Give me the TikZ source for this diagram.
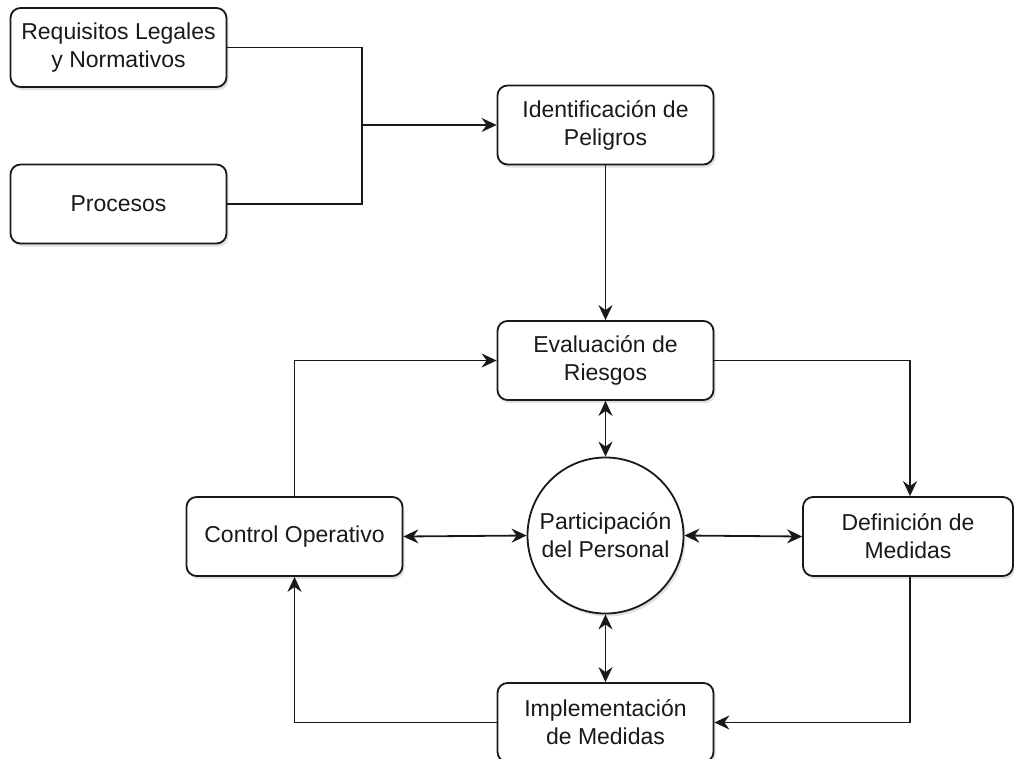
\documentclass[tikz,border=0pt]{standalone}
\usepackage{fontspec}
\setmainfont{Liberation Sans}
\usetikzlibrary{arrows.meta,shadows}
\begin{document}
\begin{tikzpicture}[x=1pt,y=-1pt,
  font=\fontsize{23}{28}\selectfont,
  every node/.style={text=black!90},
  shade/.style={drop shadow={opacity=0.12,shadow xshift=2pt,shadow yshift=-3pt,fill=blue!40!black}},
  box/.style={draw=black!90,line width=1.8pt,rounded corners=10pt,fill=white,
    minimum width=216pt,minimum height=79pt,align=center,inner sep=0pt,shade},
  disc/.style={draw=black!90,line width=1.8pt,circle,fill=white,
    minimum size=156pt,align=center,inner sep=0pt,shade},
  link/.style={draw=black!90,line width=1.8pt},
  tip/.style={Stealth[length=15pt,width=14pt,inset=5pt]},
  arr/.style={link,-{Stealth[length=15pt,width=14pt,inset=5pt]}},
  both/.style={link,{Stealth[length=15pt,width=14pt,inset=5pt]}-{Stealth[length=15pt,width=14pt,inset=5pt]}}
]
\useasboundingbox (0,0) rectangle (1014,758);

% process nodes
\node[box] (req)   at (118.5,47.5) {Requisitos Legales\\y Normativos};
\node[box] (proc)  at (118.5,204)  {Procesos};
\node[box] (ident) at (605.5,125)  {Identificación de\\Peligros};
\node[box] (eval)  at (605.5,360.5) {Evaluación de\\Riesgos};
\node[box] (ctrl)  at (294.5,536.5) {Control Operativo};
\node[disc] (part) at (605.5,535.5) {Participación\\del Personal};
\node[box,minimum width=210pt] (def) at (908,536.5) {Definición de\\Medidas};
\node[box] (impl)  at (605.5,722.5) {Implementación\\de Medidas};

% merge point of the two inputs
\coordinate (j) at (362,125);

% inputs to hazard identification
\draw[link] (req.east) -| (j);
\draw[link] (proc.east) -| (j);
\draw[arr] (j) -- (ident.west);

% main cycle
\draw[arr] (ident.south) -- (eval.north);
\draw[arr] (eval.east) -| ([xshift=2pt]def.north);
\draw[arr] ([xshift=2pt]def.south) |- (impl.east);
\draw[arr] (impl.west) -| (ctrl.south);
\draw[arr] (ctrl.north) |- (eval.west);

% participation links
\draw[both] (eval.south) -- (part.north);
\draw[both] (part.south) -- (impl.north);
\draw[both] (ctrl.east) -- (part.west);
\draw[both] (part.east) -- (def.west);
\end{tikzpicture}
\end{document}
